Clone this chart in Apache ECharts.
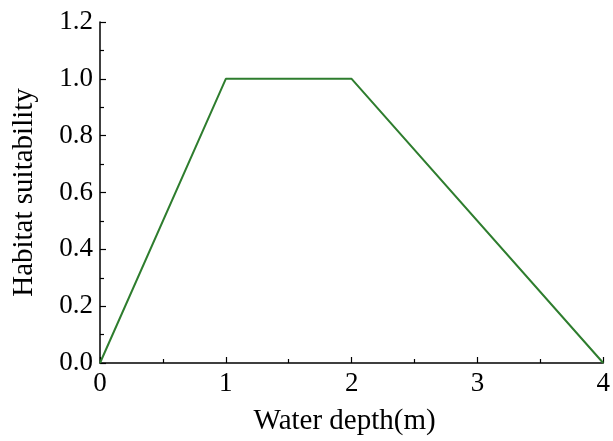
<!DOCTYPE html>
<html><head><meta charset="utf-8">
<script src="https://cdn.jsdelivr.net/npm/echarts@6/dist/echarts.min.js"></script>
<style>html,body{margin:0;padding:0;background:#fff}#c{width:613px;height:441px}</style>
</head><body><div id="c"></div>
<script>
const depth = [0, 1, 2, 4];
const suitability = [0, 1, 1, 0];
const chart = echarts.init(document.getElementById('c'));
const font = 'Liberation Serif';
chart.setOption({
  animation: false,
  grid: {left: 100, right: 6, top: 22, bottom: 78, containLabel: false},
  xAxis: {
    type: 'value', min: 0, max: 4, interval: 1,
    name: 'Water depth(m)', nameLocation: 'middle', nameGap: 44,
    nameTextStyle: {fontFamily: font, fontSize: 29, color: '#000', padding: [0, 14, 0, 0]},
    axisLine: {show: true, lineStyle: {color: '#000', width: 1.5}},
    axisTick: {show: true, inside: true, length: 6, lineStyle: {color: '#000', width: 1.2}},
    minorTick: {show: true, splitNumber: 2, length: 4, lineStyle: {color: '#000', width: 1.2}},
    axisLabel: {fontFamily: font, fontSize: 27, color: '#000', margin: 7},
    splitLine: {show: false}
  },
  yAxis: {
    type: 'value', min: 0, max: 1.2, interval: 0.2,
    name: 'Habitat suitability', nameLocation: 'middle', nameGap: 61,
    nameTextStyle: {fontFamily: font, fontSize: 29, color: '#000'},
    axisLine: {show: true, lineStyle: {color: '#000', width: 1.5}},
    axisTick: {show: true, inside: true, length: 6, lineStyle: {color: '#000', width: 1.2}},
    minorTick: {show: true, splitNumber: 2, length: 4, lineStyle: {color: '#000', width: 1.2}},
    axisLabel: {fontFamily: font, fontSize: 27, color: '#000', margin: 7, formatter: v => v.toFixed(1)},
    splitLine: {show: false}
  },
  series: [{
    type: 'line',
    data: depth.map((d, i) => [d, suitability[i]]),
    symbol: 'none',
    lineStyle: {color: '#2e7d2e', width: 2}
  }]
});
</script></body></html>
